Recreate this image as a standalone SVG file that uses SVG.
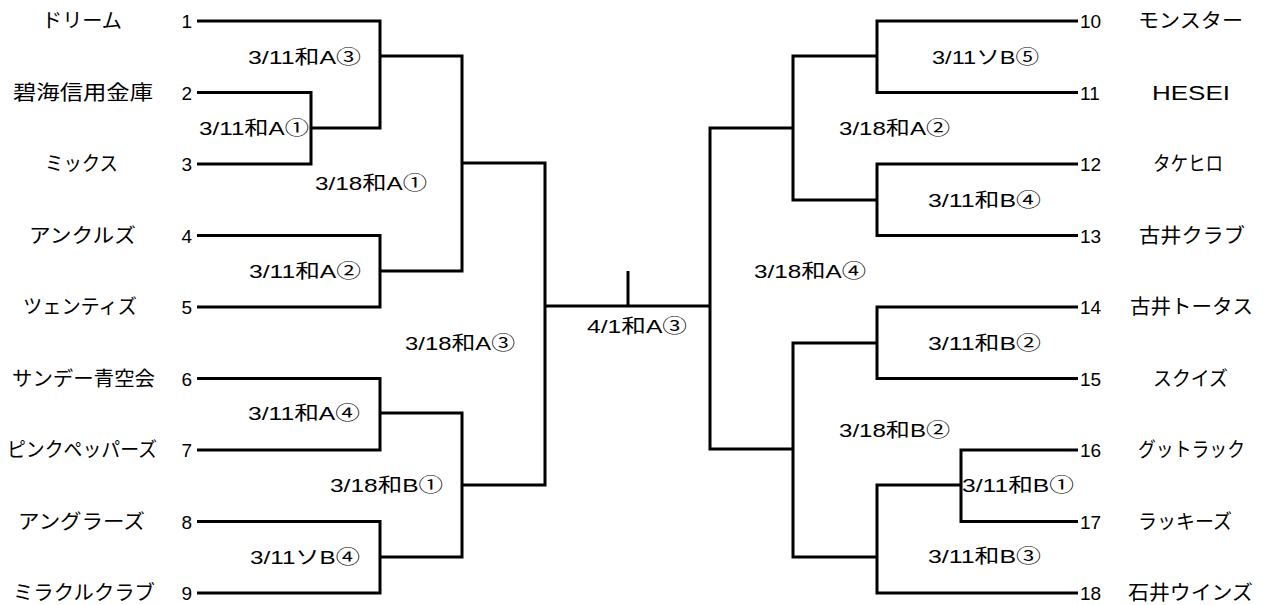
<svg xmlns="http://www.w3.org/2000/svg" width="1268" height="605" viewBox="0 0 1268 605">
<style>
text{font-family:"Liberation Sans","Noto Sans CJK JP",sans-serif;fill:#000}
.nm{font-size:20px}
.no{font-size:19px}
.lb{font-size:19px}
.ln{fill:none;stroke:#000;stroke-width:3;stroke-linejoin:miter}
</style>
<rect width="1268" height="605" fill="#fff"/>
<g id="connectors" class="ln">
<path d="M197,21 H380 V128 H311"/>
<path d="M197,92.5 H311 V164 H197"/>
<path d="M380,56 H462 V271 H380"/>
<path d="M197,235.5 H380 V307 H197"/>
<path d="M462,163 H545 V485 H462"/>
<path d="M197,378.5 H380 V450 H197"/>
<path d="M380,413 H462 V557 H380"/>
<path d="M197,521.5 H380 V593 H197"/>
<path d="M545,306 H710"/>
<path d="M628,271 V306"/>
<path d="M793,128 H710 V449 H793"/>
<path d="M1078,21 H877 V92.5 H1078"/>
<path d="M877,56 H793 V200 H877"/>
<path d="M1078,164 H877 V235.5 H1078"/>
<path d="M1078,307 H877 V378.5 H1078"/>
<path d="M877,343 H793 V557 H877"/>
<path d="M1078,450 H961 V521.5 H1078"/>
<path d="M961,485 H877 V593 H1078"/>
</g>
<g id="team1"><text class="nm" x="42" y="28" textLength="80" lengthAdjust="spacingAndGlyphs">ドリーム</text><text class="no" x="192" y="28" text-anchor="end">1</text></g>
<g id="team2"><text class="nm" x="13" y="99.5" textLength="140" lengthAdjust="spacingAndGlyphs">碧海信用金庫</text><text class="no" x="192" y="99.5" text-anchor="end">2</text></g>
<g id="team3"><text class="nm" x="45" y="171" textLength="73" lengthAdjust="spacingAndGlyphs">ミックス</text><text class="no" x="192" y="171" text-anchor="end">3</text></g>
<g id="team4"><text class="nm" x="29" y="242.5" textLength="107" lengthAdjust="spacingAndGlyphs">アンクルズ</text><text class="no" x="192" y="242.5" text-anchor="end">4</text></g>
<g id="team5"><text class="nm" x="23" y="314" textLength="114" lengthAdjust="spacingAndGlyphs">ツェンティズ</text><text class="no" x="192" y="314" text-anchor="end">5</text></g>
<g id="team6"><text class="nm" x="12" y="385.5" textLength="143" lengthAdjust="spacingAndGlyphs">サンデー青空会</text><text class="no" x="192" y="385.5" text-anchor="end">6</text></g>
<g id="team7"><text class="nm" x="7" y="457" textLength="150" lengthAdjust="spacingAndGlyphs">ピンクペッパーズ</text><text class="no" x="192" y="457" text-anchor="end">7</text></g>
<g id="team8"><text class="nm" x="18" y="528.5" textLength="127" lengthAdjust="spacingAndGlyphs">アングラーズ</text><text class="no" x="192" y="528.5" text-anchor="end">8</text></g>
<g id="team9"><text class="nm" x="13" y="600" textLength="142" lengthAdjust="spacingAndGlyphs">ミラクルクラブ</text><text class="no" x="192" y="600" text-anchor="end">9</text></g>
<g id="team10"><text class="no" x="1080" y="28">10</text><text class="nm" x="1138" y="28" textLength="105" lengthAdjust="spacingAndGlyphs">モンスター</text></g>
<g id="team11"><text class="no" x="1080" y="99.5">11</text><text class="nm" x="1152" y="99.5" textLength="78" lengthAdjust="spacingAndGlyphs">HESEI</text></g>
<g id="team12"><text class="no" x="1080" y="171">12</text><text class="nm" x="1153" y="171" textLength="70" lengthAdjust="spacingAndGlyphs">タケヒロ</text></g>
<g id="team13"><text class="no" x="1080" y="242.5">13</text><text class="nm" x="1139" y="242.5" textLength="106" lengthAdjust="spacingAndGlyphs">古井クラブ</text></g>
<g id="team14"><text class="no" x="1080" y="314">14</text><text class="nm" x="1130" y="314" textLength="123" lengthAdjust="spacingAndGlyphs">古井トータス</text></g>
<g id="team15"><text class="no" x="1080" y="385.5">15</text><text class="nm" x="1153" y="385.5" textLength="75" lengthAdjust="spacingAndGlyphs">スクイズ</text></g>
<g id="team16"><text class="no" x="1080" y="457">16</text><text class="nm" x="1138" y="457" textLength="107" lengthAdjust="spacingAndGlyphs">グットラック</text></g>
<g id="team17"><text class="no" x="1080" y="528.5">17</text><text class="nm" x="1138" y="528.5" textLength="94" lengthAdjust="spacingAndGlyphs">ラッキーズ</text></g>
<g id="team18"><text class="no" x="1080" y="600">18</text><text class="nm" x="1128" y="600" textLength="125" lengthAdjust="spacingAndGlyphs">石井ウインズ</text></g>
<g id="m-l1"><text class="lb" x="248" y="64" textLength="113" lengthAdjust="spacingAndGlyphs">3/11和A③</text></g>
<g id="m-l2"><text class="lb" x="199" y="135" textLength="110" lengthAdjust="spacingAndGlyphs">3/11和A①</text></g>
<g id="m-l3"><text class="lb" x="315" y="190" textLength="112" lengthAdjust="spacingAndGlyphs">3/18和A①</text></g>
<g id="m-l4"><text class="lb" x="249" y="278" textLength="112" lengthAdjust="spacingAndGlyphs">3/11和A②</text></g>
<g id="m-l5"><text class="lb" x="405" y="350" textLength="110" lengthAdjust="spacingAndGlyphs">3/18和A③</text></g>
<g id="m-l6"><text class="lb" x="248" y="420" textLength="112" lengthAdjust="spacingAndGlyphs">3/11和A④</text></g>
<g id="m-l7"><text class="lb" x="330" y="492" textLength="113" lengthAdjust="spacingAndGlyphs">3/18和B①</text></g>
<g id="m-l8"><text class="lb" x="250" y="564" textLength="110" lengthAdjust="spacingAndGlyphs">3/11ソB④</text></g>
<g id="m-final"><text class="lb" x="587" y="333" textLength="100" lengthAdjust="spacingAndGlyphs">4/1和A③</text></g>
<g id="m-r1"><text class="lb" x="932" y="64" textLength="107" lengthAdjust="spacingAndGlyphs">3/11ソB⑤</text></g>
<g id="m-r2"><text class="lb" x="839" y="135" textLength="111" lengthAdjust="spacingAndGlyphs">3/18和A②</text></g>
<g id="m-r3"><text class="lb" x="928" y="207" textLength="113" lengthAdjust="spacingAndGlyphs">3/11和B④</text></g>
<g id="m-r4"><text class="lb" x="754" y="278" textLength="112" lengthAdjust="spacingAndGlyphs">3/18和A④</text></g>
<g id="m-r5"><text class="lb" x="928" y="350" textLength="113" lengthAdjust="spacingAndGlyphs">3/11和B②</text></g>
<g id="m-r6"><text class="lb" x="839" y="437" textLength="111" lengthAdjust="spacingAndGlyphs">3/18和B②</text></g>
<g id="m-r7"><text class="lb" x="962" y="492" textLength="112" lengthAdjust="spacingAndGlyphs">3/11和B①</text></g>
<g id="m-r8"><text class="lb" x="928" y="563" textLength="113" lengthAdjust="spacingAndGlyphs">3/11和B③</text></g>
</svg>
